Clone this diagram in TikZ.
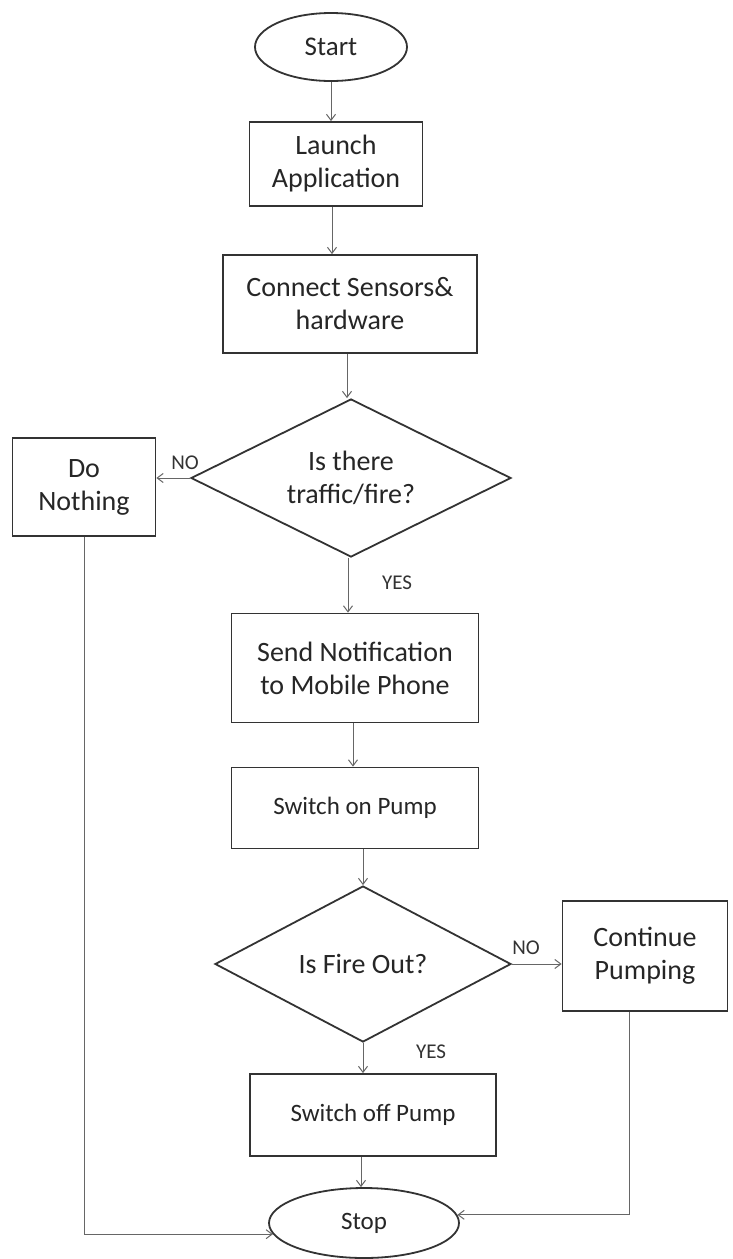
\documentclass[tikz,border=0pt]{standalone}
\usepackage{fontspec}
\setmainfont{Carlito}
\usetikzlibrary{shapes.geometric,arrows.meta}
\begin{document}
\begin{tikzpicture}[x=1pt,y=-1pt,
  box/.style={draw=black!80,line width=1.8pt,rectangle,align=center,inner sep=0pt,text=black!85,font=\fontsize{28}{33}\selectfont},
  oval/.style={draw=black!80,line width=1.8pt,ellipse,inner sep=0pt,text=black!85,font=\fontsize{27}{32}\selectfont},
  dia/.style={draw=black!80,line width=1.8pt,diamond,aspect=2,inner sep=0pt,align=center,text=black!85,font=\fontsize{28}{33}\selectfont},
  conn/.style={draw=black!60,line width=1pt,-{Straight Barb[length=6pt,width=9pt]}},
  lbl/.style={text=black!80,font=\fontsize{21}{24}\selectfont,inner sep=0pt}]
\useasboundingbox[fill=white] (0,0) rectangle (733,1259);
\node[oval,minimum width=152pt,minimum height=68pt] (start) at (331,47) {Start};
\node[box,minimum width=173pt,minimum height=84pt] (launch) at (336,164) {Launch\\Application};
\node[box,minimum width=254pt,minimum height=98pt] (connect) at (350,304) {Connect Sensors\&\\hardware};
\node[dia,minimum width=320pt,minimum height=158pt] (d1) at (351,478) {Is there\\traffic/fire?};
\node[box,minimum width=143pt,minimum height=98pt] (nothing) at (84,487) {Do\\Nothing};
\node[box,minimum width=247pt,minimum height=109pt] (notify) at (355,668) {Send Notification\\to Mobile Phone};
\node[box,minimum width=247pt,minimum height=81pt,font=\fontsize{25}{30}\selectfont] (pumpon) at (355,808) {Switch on Pump};
\node[dia,minimum width=296pt,minimum height=156pt] (d2) at (363,964) {Is Fire Out?};
\node[box,minimum width=165pt,minimum height=110pt] (cont) at (645,956) {Continue\\Pumping};
\node[box,minimum width=246pt,minimum height=82pt,font=\fontsize{25}{30}\selectfont] (pumpoff) at (373,1115) {Switch off Pump};
\node[oval,minimum width=190pt,minimum height=70pt,font=\fontsize{25}{30}\selectfont] (stop) at (364,1223) {Stop};

\node[lbl] (no1) at (185,463) {NO};
\node[lbl] (yes1) at (397,583) {YES};
\node[lbl] (no2) at (526,948) {NO};
\node[lbl] (yes2) at (431,1052) {YES};

\draw[conn] (start.south) -- (start.south |- launch.north);
\draw[conn] ([xshift=-4pt]launch.south) -- ([xshift=-4pt]launch.south |- connect.north);
\draw[conn] ([xshift=-3pt]connect.south) -- ([xshift=-3pt]connect.south |- d1.north);
\draw[conn] (d1.west) -- (d1.west -| nothing.east);
\draw[conn] ([xshift=-3pt]d1.south) -- ([xshift=-3pt]d1.south |- notify.north);
\draw[conn] ([xshift=-2pt]notify.south) -- ([xshift=-2pt]notify.south |- pumpon.north);
\draw[conn] ([xshift=8pt]pumpon.south) -- (d2.north);
\draw[conn] (d2.east) -- (d2.east -| cont.west);
\draw[conn] (d2.south) -- (d2.south |- pumpoff.north);
\draw[conn] ([xshift=-12pt]pumpoff.south) -- ([xshift=-12pt]pumpoff.south |- stop.north);
\draw[conn] (nothing.south) |- (stop.187);
\draw[conn] ([xshift=-16pt]cont.south) |- (stop.5);
\end{tikzpicture}
\end{document}
